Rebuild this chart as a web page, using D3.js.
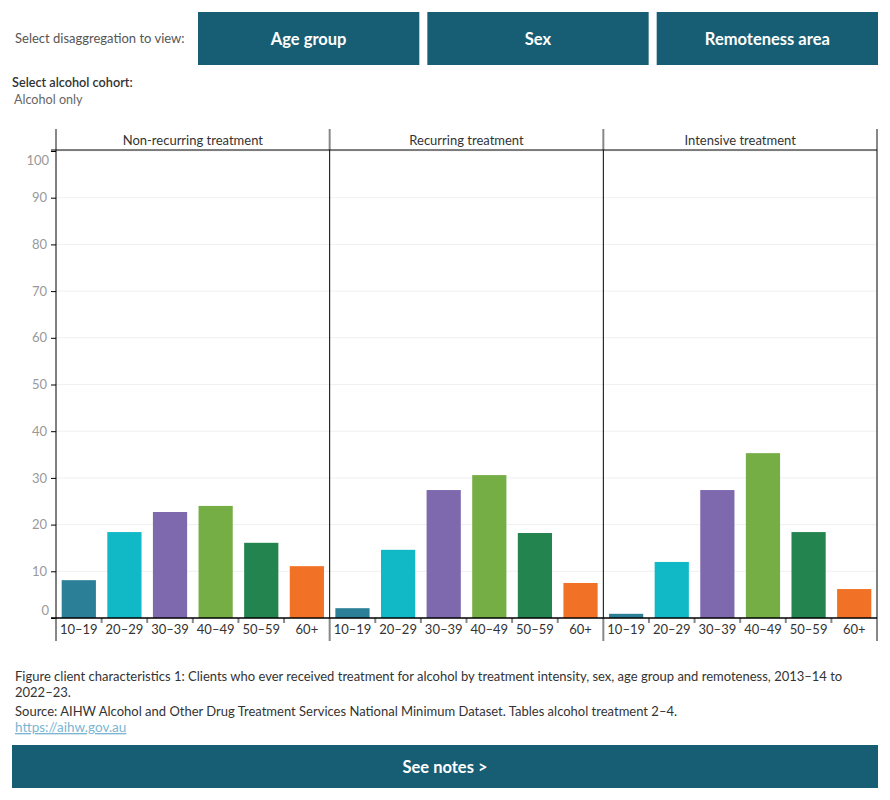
<!DOCTYPE html>
<html><head><meta charset="utf-8">
<script src="https://cdn.jsdelivr.net/npm/d3@7"></script>
<style>
body{margin:0;background:#fff;font-family:Lato,"Noto Sans",sans-serif;}
</style></head>
<body>
<svg id="chart" width="890" height="800"></svg>
<script>
const panels = ["Non-recurring treatment", "Recurring treatment", "Intensive treatment"];
const ageGroups = ["10–19", "20–29", "30–39", "40–49", "50–59", "60+"];
const nonRecurring = [8.1, 18.4, 22.7, 24.0, 16.1, 11.1];
const recurring = [2.1, 14.6, 27.4, 30.6, 18.2, 7.5];
const intensive = [0.9, 12.0, 27.4, 35.3, 18.4, 6.2];
const yTicks = [0, 10, 20, 30, 40, 50, 60, 70, 80, 90, 100];
const colors = ["#2b7f97", "#11b8c6", "#7f69ae", "#76ae46", "#24844f", "#f17126"];
const buttons = ["Age group", "Sex", "Remoteness area"];

const seriesByPanel = [nonRecurring, recurring, intensive];
const svg = d3.select("#chart");
const font = "Lato, 'Noto Sans', sans-serif";

// Top controls
svg.append("text").attr("x", 15).attr("y", 43).attr("font-size", 13).attr("fill", "#555")
  .attr("font-family", font).text("Select disaggregation to view:");
const btnX = d3.scaleBand().domain(buttons).range([198, 878]).paddingInner(0.035);
const bg = svg.append("g").selectAll("g").data(buttons).join("g");
bg.append("rect").attr("x", d => btnX(d)).attr("y", 12).attr("width", btnX.bandwidth()).attr("height", 53).attr("fill", "#175e74");
bg.append("text").attr("x", d => btnX(d) + btnX.bandwidth() / 2).attr("y", 45).attr("text-anchor", "middle")
  .attr("font-size", 16.5).attr("font-weight", "bold").attr("fill", "#fff").attr("font-family", font).text(d => d);

svg.append("text").attr("x", 12).attr("y", 87).attr("font-size", 12.7).attr("font-weight", 600).attr("fill", "#333")
  .attr("font-family", font).text("Select alcohol cohort:");
svg.append("text").attr("x", 14).attr("y", 104).attr("font-size", 12.6).attr("fill", "#666")
  .attr("font-family", font).text("Alcohol only");

// Chart
const pLeft = 56, pRight = 877, pTop = 150, pBottom = 618;
const panelX = d3.scaleBand().domain(panels).range([pLeft, pRight]);
const y = d3.scaleLinear().domain([0, 100]).range([pBottom, 151]);

// gridlines
svg.append("g").selectAll("line").data(yTicks.filter(t => t > 0)).join("line")
  .attr("x1", pLeft).attr("x2", pRight).attr("y1", d => y(d)).attr("y2", d => y(d))
  .attr("stroke", "#f0f0f0").attr("stroke-width", 1);

// y axis
const yAxis = svg.append("g").attr("transform", `translate(${pLeft},0)`)
  .call(d3.axisLeft(y).tickValues(yTicks).tickSize(5).tickPadding(4));
yAxis.select(".domain").remove();
yAxis.selectAll(".tick line").attr("stroke", "#000");
yAxis.selectAll(".tick text").attr("fill", "#999").attr("font-size", 13).attr("font-family", font);
yAxis.selectAll(".tick").filter(d => d === 100).select("text").attr("dy", "1.0em").attr("x", -7);
yAxis.selectAll(".tick").filter(d => d === 0).select("text").attr("dy", "-0.3em").attr("x", -7);

panels.forEach((p, i) => {
  const x0 = panelX(p);
  const x = d3.scaleBand().domain(ageGroups).range([x0, x0 + panelX.bandwidth()]).paddingInner(0.25).paddingOuter(0.125);
  const g = svg.append("g");
  g.selectAll("rect").data(seriesByPanel[i].map((v, j) => ({ k: ageGroups[j], v }))).join("rect")
    .attr("x", d => x(d.k)).attr("width", x.bandwidth())
    .attr("y", d => y(d.v)).attr("height", d => pBottom - y(d.v))
    .attr("fill", (d, j) => colors[j]);
  g.append("text").attr("x", x0 + panelX.bandwidth() / 2).attr("y", 145).attr("text-anchor", "middle")
    .attr("font-size", 13).attr("fill", "#333").attr("font-family", font).text(p);
  const xa = g.append("g").attr("transform", `translate(0,${pBottom})`)
    .call(d3.axisBottom(x).tickSize(0).tickPadding(7));
  xa.select(".domain").remove();
  xa.selectAll(".tick text").attr("fill", "#333").attr("font-size", 13).attr("font-family", font);
  const seps = ageGroups.slice(1).map(k => x(k) - x.step() * x.paddingInner() / 2);
  g.selectAll("line.sep").data(seps).join("line").attr("class", "sep")
    .attr("x1", d => d).attr("x2", d => d).attr("y1", pBottom).attr("y2", pBottom + 5)
    .attr("stroke", "#888").attr("stroke-width", 2);
});

const edges = panels.map(p => panelX(p)).concat([pRight]);
svg.append("g").selectAll("line").data(edges).join("line")
  .attr("x1", d => d).attr("x2", d => d).attr("y1", pTop).attr("y2", pBottom)
  .attr("stroke", "#000").attr("stroke-width", 1);
svg.append("g").selectAll("line").data(edges).join("line")
  .attr("x1", d => d).attr("x2", d => d).attr("y1", 129).attr("y2", pTop)
  .attr("stroke", "#888").attr("stroke-width", 2);
svg.append("g").selectAll("line").data(edges).join("line")
  .attr("x1", d => d).attr("x2", d => d).attr("y1", pBottom).attr("y2", 641)
  .attr("stroke", "#888").attr("stroke-width", 2);
svg.append("line").attr("x1", 51).attr("x2", pRight).attr("y1", pTop).attr("y2", pTop).attr("stroke", "#000");
svg.append("line").attr("x1", 51).attr("x2", pRight).attr("y1", pBottom).attr("y2", pBottom).attr("stroke", "#000").attr("stroke-width", 1.5);

const cap = [
  { t: "Figure client characteristics 1: Clients who ever received treatment for alcohol by treatment intensity, sex, age group and remoteness, 2013–14 to", y: 681 },
  { t: "2022–23.", y: 697 },
  { t: "Source: AIHW Alcohol and Other Drug Treatment Services National Minimum Dataset. Tables alcohol treatment 2–4.", y: 716 }
];
svg.append("g").selectAll("text").data(cap).join("text")
  .attr("x", 15).attr("y", d => d.y).attr("font-size", 13).attr("fill", "#333").attr("font-family", font).text(d => d.t);
svg.append("text").attr("x", 15).attr("y", 732).attr("font-size", 13.5).attr("fill", "#7ab6d2")
  .attr("text-decoration", "underline").attr("font-family", font).text("https://aihw.gov.au");

svg.append("rect").attr("x", 12).attr("y", 745).attr("width", 866).attr("height", 43).attr("fill", "#175e74");
svg.append("text").attr("x", 445).attr("y", 773).attr("text-anchor", "middle").attr("font-size", 16.5).attr("font-weight", "bold")
  .attr("fill", "#fff").attr("font-family", font).text("See notes >");
</script>
</body></html>
